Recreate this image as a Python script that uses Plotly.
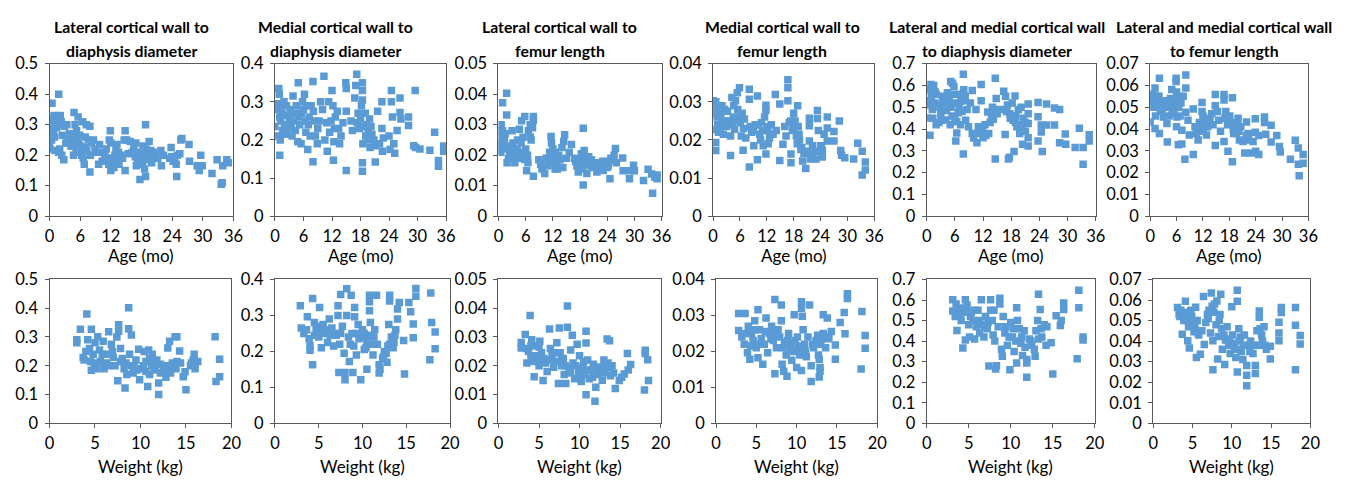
import plotly.graph_objects as go

W, H = 1357, 487

# ---------------- data: (x, y) pairs per panel ----------------
# Age (months) vs. ratios
age_lat_diam = [(0.0,0.23),(0.1,0.22),(0.5,0.37),(1.8,0.40),(0.6,0.32),(0.9,0.33),(1.2,0.31),(1.6,0.32),(2.1,0.33),(2.3,0.31),(0.7,0.29),(0.8,0.27),(1.0,0.26),(0.9,0.30),(1.1,0.215),(1.8,0.21),(2.4,0.20),(2.8,0.185),(2.5,0.265),(2.9,0.295),(3.2,0.24),(3.6,0.24),(4.0,0.25),(4.6,0.23),(4.8,0.34),(5.6,0.325),(5.0,0.30),(5.3,0.28),(4.5,0.26),(5.1,0.25),(5.7,0.24),(5.2,0.22),(6.0,0.21),(6.3,0.20),(6.6,0.19),(6.8,0.17),(6.5,0.31),(7.2,0.30),(7.9,0.295),(7.0,0.26),(7.6,0.25),(7.9,0.145),(8.2,0.24),(8.6,0.25),(8.9,0.22),(9.3,0.21),(9.8,0.235),(9.6,0.17),(10.3,0.18),(11.9,0.28),(11.7,0.25),(12.0,0.24),(11.1,0.22),(10.8,0.2),(12.1,0.19),(12.4,0.175),(12.6,0.16),(12.0,0.15),(13.2,0.235),(13.5,0.21),(13.0,0.22),(14.0,0.2),(14.3,0.19),(14.6,0.25),(15.1,0.25),(14.8,0.28),(13.6,0.17),(14.8,0.15),(15.4,0.205),(15.8,0.245),(16.5,0.23),(16.9,0.24),(17.2,0.21),(17.5,0.20),(17.8,0.19),(17.2,0.18),(17.0,0.165),(18.6,0.155),(17.7,0.12),(18.8,0.13),(18.8,0.30),(19.5,0.245),(18.3,0.23),(18.9,0.22),(19.3,0.2),(19.0,0.185),(20.3,0.21),(20.7,0.2),(21.2,0.19),(21.8,0.215),(21.9,0.165),(22.3,0.2),(23.8,0.225),(23.5,0.19),(24.2,0.18),(24.8,0.17),(24.9,0.13),(25.0,0.2),(25.7,0.25),(25.9,0.255),(25.5,0.205),(27.3,0.235),(27.4,0.18),(28.9,0.165),(29.3,0.15),(29.6,0.2),(29.9,0.165),(31.8,0.14),(32.8,0.185),(33.6,0.105),(33.8,0.11),(33.9,0.165),(34.7,0.185),(35.0,0.175),
                (0.3,0.3),(0.4,0.25),(1.4,0.29),(1.7,0.3),(2.0,0.22),(3.4,0.3),(3.9,0.27),(4.2,0.23),(4.7,0.2),(5.9,0.265),(6.1,0.23),(6.9,0.225),(7.3,0.215),(8.0,0.2),(10.5,0.21),(11.4,0.19),(11.6,0.17),(12.8,0.2),(13.3,0.185),(16.2,0.21),(16.8,0.195),(18.0,0.205),(18.2,0.17),(19.6,0.19),(19.8,0.215),(20.0,0.175),(23.9,0.195),(24.5,0.19)]

age_med_diam = [(0.0,0.235),(0.5,0.295),(0.8,0.335),(0.9,0.32),(1.0,0.16),(0.7,0.28),(1.0,0.26),(1.2,0.25),(0.8,0.21),(1.1,0.2),(1.5,0.27),(1.9,0.3),(2.0,0.24),(2.3,0.215),(2.6,0.265),(3.0,0.255),(3.2,0.28),(3.8,0.315),(3.6,0.21),(4.1,0.27),(4.5,0.29),(4.9,0.35),(5.0,0.26),(5.2,0.24),(4.8,0.195),(5.5,0.19),(5.8,0.3),(6.2,0.32),(6.0,0.28),(6.3,0.25),(6.5,0.22),(6.9,0.175),(7.2,0.26),(7.6,0.29),(8.0,0.353),(8.0,0.143),(8.1,0.275),(8.5,0.21),(8.9,0.19),(9.3,0.25),(9.6,0.3),(10.3,0.367),(10.5,0.2),(10.9,0.245),(11.0,0.17),(11.3,0.3),(11.5,0.22),(12.0,0.33),(12.2,0.29),(12.4,0.195),(12.3,0.147),(12.7,0.26),(13.1,0.275),(13.4,0.23),(13.9,0.21),(14.3,0.245),(14.9,0.35),(15.0,0.335),(15.0,0.275),(15.0,0.12),(16.0,0.25),(16.3,0.225),(16.8,0.31),(17.2,0.372),(17.0,0.343),(17.3,0.245),(17.8,0.23),(18.2,0.29),(18.4,0.33),(18.4,0.305),(18.4,0.35),(18.4,0.14),(18.4,0.118),(18.5,0.19),(19.0,0.27),(19.3,0.24),(19.6,0.22),(19.9,0.255),(20.0,0.18),(20.4,0.215),(21.1,0.142),(21.1,0.185),(21.6,0.275),(22.0,0.19),(22.5,0.3),(22.5,0.23),(22.6,0.17),(22.8,0.205),(24.0,0.21),(24.2,0.175),(24.5,0.33),(24.5,0.3),(24.7,0.26),(25.0,0.19),(25.2,0.165),(25.7,0.225),(26.3,0.31),(26.3,0.272),(26.5,0.255),(28.1,0.26),(28.1,0.238),(29.5,0.33),(29.2,0.185),(29.6,0.18),(30.5,0.176),(32.6,0.173),(33.6,0.22),(34.4,0.146),(34.4,0.131),(35.5,0.184),(35.5,0.17),
                (1.3,0.29),(1.6,0.225),(2.4,0.29),(2.8,0.23),(3.4,0.24),(4.0,0.25),(4.3,0.225),(5.6,0.27),(6.7,0.29),(7.0,0.24),(7.4,0.21),(8.3,0.25),(9.0,0.23),(10.0,0.28),(11.8,0.25),(12.5,0.23),(13.6,0.19),(17.5,0.27),(18.0,0.255),(18.8,0.235),(19.1,0.21),(19.5,0.2),(20.2,0.235),(20.8,0.2)]

age_lat_len = [(0.0,0.0233),(0.1,0.0217),(0.9,0.0372),(1.8,0.0403),(1.8,0.0332),(0.6,0.03),(0.9,0.028),(1.0,0.026),(0.7,0.024),(1.2,0.022),(0.5,0.021),(1.5,0.027),(1.9,0.0175),(2.5,0.021),(2.9,0.0225),(3.2,0.024),(3.6,0.0175),(3.0,0.028),(3.8,0.02),(4.1,0.022),(4.4,0.019),(4.6,0.0285),(5.1,0.0313),(5.8,0.0327),(5.4,0.0259),(5.0,0.024),(5.8,0.0186),(6.2,0.0149),(6.5,0.0175),(6.4,0.02),(6.6,0.028),(7.0,0.03),(7.7,0.0327),(7.7,0.0314),(7.5,0.029),(7.7,0.0131),(7.2,0.025),(8.9,0.0185),(9.3,0.017),(9.6,0.0155),(10.2,0.014),(10.5,0.019),(10.9,0.0165),(11.3,0.021),(11.6,0.0261),(11.7,0.024),(12.0,0.022),(12.2,0.019),(12.5,0.0155),(12.9,0.017),(13.3,0.02),(13.6,0.0185),(14.0,0.0225),(14.4,0.0245),(14.6,0.0267),(14.2,0.016),(15.0,0.019),(15.6,0.021),(16.1,0.0235),(16.8,0.019),(17.3,0.0165),(17.6,0.0145),(17.9,0.0185),(18.3,0.0205),(18.7,0.0288),(18.7,0.0102),(18.9,0.0215),(19.2,0.017),(19.5,0.014),(19.9,0.0195),(20.2,0.0165),(20.8,0.016),(21.3,0.0175),(21.7,0.0145),(22.3,0.017),(23.1,0.015),(23.5,0.0175),(24.0,0.016),(24.3,0.018),(24.6,0.0123),(24.8,0.019),(25.2,0.0185),(25.5,0.02),(25.8,0.0222),(26.0,0.0175),(27.4,0.0191),(27.5,0.0149),(28.9,0.0149),(28.9,0.0123),(29.8,0.0167),(30.0,0.0149),(32.0,0.0117),(33.0,0.0154),(33.8,0.0138),(34.0,0.0075),(34.5,0.0128),(35.0,0.0123),(35.0,0.0135),
               (0.3,0.026),(0.4,0.028),(1.3,0.025),(1.6,0.023),(2.2,0.019),(3.5,0.022),(4.2,0.025),(4.8,0.021),(6.0,0.022),(7.0,0.026),(11.0,0.019),(11.8,0.0175),(12.5,0.021),(13.0,0.0155),(17.0,0.018),(18.1,0.017),(18.5,0.0155),(19.0,0.019),(20.5,0.0185),(22.0,0.0155),(23.0,0.018),(24.2,0.0165)]

age_med_len = [(0.0,0.0303),(0.0,0.0227),(0.6,0.0193),(0.6,0.0172),(0.6,0.03),(0.8,0.0285),(0.9,0.026),(1.0,0.024),(1.2,0.022),(1.7,0.0269),(2.0,0.025),(2.3,0.0215),(2.6,0.028),(3.0,0.0235),(3.2,0.0275),(3.5,0.025),(3.9,0.0159),(3.9,0.021),(4.2,0.0311),(4.5,0.026),(4.8,0.0228),(5.0,0.0303),(5.4,0.0324),(5.5,0.028),(5.2,0.025),(5.9,0.0337),(6.1,0.0245),(6.3,0.021),(6.5,0.027),(6.7,0.0173),(7.0,0.0255),(7.3,0.0205),(8.1,0.0333),(8.1,0.0307),(8.1,0.0129),(8.3,0.0235),(8.6,0.022),(9.1,0.0185),(9.4,0.024),(9.9,0.0315),(9.9,0.0148),(10.4,0.0215),(10.8,0.0245),(11.2,0.0185),(11.5,0.026),(11.8,0.0291),(11.8,0.0278),(11.8,0.0163),(12.0,0.0225),(12.3,0.019),(12.6,0.0205),(13.0,0.024),(13.4,0.0215),(13.9,0.0319),(14.1,0.0225),(14.9,0.0294),(14.9,0.0146),(15.6,0.0189),(16.0,0.0235),(16.3,0.021),(16.7,0.0358),(16.7,0.0337),(16.7,0.0303),(17.0,0.0245),(17.4,0.0163),(17.4,0.014),(17.7,0.0225),(18.0,0.027),(18.3,0.025),(18.6,0.021),(18.9,0.029),(19.0,0.0235),(19.3,0.02),(19.6,0.0175),(20.0,0.0145),(20.3,0.0165),(20.7,0.0125),(21.2,0.017),(21.5,0.0237),(21.5,0.0257),(21.5,0.0197),(21.7,0.015),(22.2,0.0185),(22.8,0.017),(23.3,0.0277),(23.3,0.0256),(23.5,0.0225),(24.0,0.0185),(24.4,0.0172),(24.4,0.0155),(24.8,0.0215),(25.5,0.026),(25.5,0.0231),(25.5,0.0197),(27.0,0.0222),(27.0,0.0197),(28.2,0.025),(28.5,0.0172),(28.7,0.016),(29.4,0.0153),(31.4,0.015),(32.3,0.0191),(33.3,0.017),(33.3,0.0108),(34.0,0.0142),(34.0,0.0121),
               (0.4,0.027),(1.5,0.023),(2.0,0.029),(2.8,0.025),(4.2,0.024),(4.6,0.029),(5.7,0.026),(6.8,0.023),(9.0,0.0225),(10.0,0.024),(10.6,0.02),(11.0,0.0225),(12.2,0.0235),(12.8,0.0215),(17.3,0.025),(18.0,0.023),(18.8,0.019),(19.2,0.0215),(19.8,0.018),(22.0,0.016),(23.0,0.015),(24.2,0.0185)]

age_both_diam = [(0.0,0.522),(0.0,0.451),(0.7,0.371),(0.9,0.604),(0.6,0.58),(1.0,0.55),(0.8,0.51),(1.2,0.49),(1.5,0.60),(1.8,0.57),(1.3,0.45),(2.0,0.42),(2.3,0.515),(2.6,0.43),(3.0,0.47),(3.3,0.55),(3.6,0.52),(4.1,0.441),(4.2,0.485),(4.4,0.567),(4.8,0.54),(5.1,0.618),(5.5,0.61),(5.2,0.5),(5.4,0.46),(5.0,0.42),(5.8,0.595),(6.0,0.52),(6.2,0.345),(6.4,0.382),(6.4,0.434),(6.7,0.475),(7.0,0.56),(7.3,0.53),(7.8,0.651),(7.8,0.285),(7.9,0.58),(8.0,0.53),(8.3,0.44),(8.6,0.49),(8.9,0.41),(9.7,0.577),(9.3,0.52),(9.7,0.38),(10.0,0.359),(10.5,0.49),(10.7,0.337),(11.0,0.41),(11.6,0.604),(11.6,0.53),(11.6,0.389),(12.0,0.36),(12.4,0.42),(13.0,0.478),(13.2,0.38),(13.5,0.43),(14.0,0.5),(14.2,0.445),(14.6,0.633),(14.6,0.263),(14.8,0.54),(15.0,0.47),(16.0,0.49),(16.4,0.574),(16.8,0.55),(16.7,0.375),(17.0,0.48),(17.4,0.263),(17.6,0.27),(17.8,0.45),(18.2,0.52),(18.6,0.297),(18.8,0.552),(18.9,0.43),(19.2,0.41),(19.5,0.49),(19.8,0.38),(20.1,0.5),(20.4,0.33),(20.6,0.45),(21.0,0.39),(21.6,0.515),(21.6,0.47),(21.6,0.426),(21.6,0.36),(21.6,0.322),(23.7,0.522),(23.7,0.456),(23.7,0.345),(24.4,0.419),(24.4,0.386),(24.6,0.297),(25.5,0.515),(25.5,0.419),(27.2,0.497),(27.2,0.419),(28.3,0.49),(28.3,0.337),(29.5,0.377),(29.6,0.33),(31.6,0.315),(32.5,0.404),(33.3,0.315),(33.3,0.238),(34.6,0.374),(34.6,0.345),
                 (0.5,0.53),(1.1,0.58),(1.6,0.52),(2.0,0.56),(2.8,0.5),(3.1,0.44),(4.0,0.53),(4.6,0.51),(5.6,0.56),(6.0,0.45),(6.9,0.5),(7.5,0.48),(7.2,0.42),(8.2,0.55),(11.2,0.38),(11.9,0.40),(12.6,0.37),(13.8,0.46),(14.5,0.49),(17.2,0.51),(17.7,0.47),(18.4,0.44),(19.0,0.46),(19.9,0.41),(20.3,0.42),(21.0,0.43)]

age_both_len = [(0.0,0.0533),(0.0,0.0432),(1.1,0.0589),(2.1,0.0633),(0.7,0.056),(1.0,0.054),(1.3,0.052),(0.8,0.05),(1.5,0.055),(1.8,0.051),(2.4,0.053),(2.7,0.049),(3.2,0.051),(3.5,0.053),(1.1,0.0402),(1.2,0.046),(2.1,0.038),(3.0,0.0455),(3.9,0.034),(3.8,0.0425),(4.2,0.05),(4.6,0.054),(4.9,0.0581),(5.2,0.052),(5.5,0.049),(5.0,0.047),(5.9,0.0633),(5.9,0.0618),(6.0,0.057),(6.3,0.055),(6.0,0.041),(6.1,0.0455),(6.4,0.0328),(7.2,0.0331),(7.2,0.0395),(7.0,0.052),(7.5,0.055),(8.1,0.0648),(8.1,0.0589),(8.1,0.0477),(7.9,0.0261),(8.6,0.044),(8.9,0.0373),(9.8,0.0283),(9.8,0.0492),(10.2,0.041),(10.5,0.038),(10.9,0.035),(11.2,0.043),(11.8,0.0522),(11.8,0.048),(12.0,0.04),(12.3,0.044),(12.8,0.0373),(13.1,0.041),(13.6,0.045),(14.0,0.047),(14.3,0.042),(14.8,0.0559),(14.8,0.0507),(14.8,0.0325),(15.3,0.048),(15.6,0.044),(16.0,0.039),(16.8,0.0559),(16.8,0.0533),(16.8,0.0343),(17.2,0.048),(17.7,0.0298),(17.6,0.042),(18.1,0.046),(18.7,0.0544),(18.7,0.025),(18.9,0.04),(19.3,0.043),(19.6,0.038),(20.0,0.045),(20.3,0.035),(20.6,0.041),(21.1,0.0343),(21.5,0.029),(21.9,0.0432),(22.3,0.038),(23.0,0.029),(23.9,0.0447),(23.9,0.0385),(23.4,0.0343),(24.0,0.0298),(24.7,0.0283),(24.7,0.037),(26.0,0.0455),(26.0,0.043),(26.3,0.0376),(27.5,0.0417),(27.5,0.034),(28.8,0.037),(29.4,0.032),(29.6,0.0295),(31.9,0.0261),(33.0,0.0349),(33.7,0.0313),(33.7,0.0238),(33.9,0.0186),(34.8,0.0283),(34.8,0.0243),
                (0.4,0.055),(0.6,0.052),(1.6,0.05),(2.0,0.055),(2.3,0.048),(2.9,0.052),(4.3,0.046),(4.7,0.05),(5.6,0.053),(6.5,0.05),(6.8,0.046),(10.8,0.04),(11.5,0.039),(12.0,0.046),(12.6,0.041),(13.3,0.043),(17.0,0.045),(18.3,0.043),(19.0,0.038),(19.9,0.042),(20.2,0.039),(21.9,0.037),(22.4,0.035)]

# Weight (kg) vs. ratios
wt_lat_diam = [(3.0,0.29),(3.0,0.28),(3.4,0.327),(3.7,0.229),(3.8,0.22),(4.1,0.38),(4.2,0.29),(4.4,0.26),(4.5,0.215),(4.6,0.327),(4.6,0.184),(4.8,0.24),(5.0,0.28),(5.2,0.19),(5.3,0.301),(5.5,0.255),(5.6,0.215),(5.9,0.285),(6.0,0.19),(6.2,0.24),(6.5,0.318),(6.5,0.2),(6.8,0.275),(7.0,0.23),(7.2,0.2),(7.4,0.3),(7.6,0.343),(7.6,0.32),(7.5,0.148),(7.8,0.26),(8.0,0.225),(8.2,0.19),(8.3,0.123),(8.5,0.17),(8.7,0.402),(8.7,0.329),(8.8,0.24),(9.0,0.307),(9.0,0.2),(9.2,0.175),(9.5,0.22),(9.8,0.257),(9.9,0.151),(10.1,0.19),(10.4,0.25),(10.6,0.215),(10.8,0.128),(10.9,0.255),(11.0,0.17),(11.2,0.2),(11.3,0.24),(11.5,0.185),(11.8,0.22),(12.0,0.1),(12.0,0.14),(12.2,0.175),(12.5,0.19),(12.8,0.16),(13.0,0.262),(13.0,0.2),(13.2,0.285),(13.3,0.175),(13.5,0.21),(13.8,0.301),(14.0,0.301),(13.9,0.19),(14.3,0.251),(14.4,0.21),(14.7,0.162),(15.0,0.117),(14.9,0.179),(15.5,0.2),(15.8,0.22),(15.9,0.24),(16.0,0.19),(16.3,0.215),(18.2,0.301),(18.3,0.145),(18.7,0.223),(18.7,0.162),
               (4.0,0.25),(4.9,0.21),(5.8,0.24),(6.3,0.21),(6.9,0.25),(7.8,0.215),(8.4,0.21),(9.3,0.2),(9.6,0.185),(10.3,0.2),(10.6,0.18),(11.0,0.225),(11.6,0.2),(12.2,0.205),(12.7,0.18),(13.1,0.18),(13.6,0.195),(14.0,0.215),(15.6,0.21),(16.0,0.205)]

wt_med_diam = [(2.9,0.327),(3.0,0.265),(3.3,0.25),(3.7,0.296),(3.9,0.235),(4.0,0.216),(4.0,0.203),(4.3,0.347),(4.3,0.163),(4.5,0.28),(4.7,0.26),(5.0,0.24),(5.1,0.322),(5.3,0.21),(5.5,0.275),(5.8,0.25),(6.0,0.225),(6.2,0.29),(6.5,0.265),(6.7,0.215),(7.0,0.245),(7.2,0.327),(7.2,0.3),(7.3,0.141),(7.4,0.22),(7.5,0.358),(7.7,0.27),(7.9,0.195),(8.0,0.141),(8.0,0.121),(8.2,0.374),(8.2,0.3),(8.4,0.24),(8.5,0.172),(8.7,0.356),(8.8,0.25),(8.9,0.141),(9.0,0.215),(9.1,0.322),(9.1,0.296),(9.3,0.19),(9.5,0.275),(9.6,0.235),(9.8,0.121),(10.0,0.26),(10.2,0.205),(10.5,0.15),(10.5,0.23),(10.8,0.356),(10.8,0.338),(10.8,0.313),(10.9,0.28),(11.0,0.245),(11.2,0.19),(11.4,0.26),(11.6,0.356),(11.7,0.22),(11.9,0.163),(11.9,0.14),(12.0,0.15),(12.3,0.18),(12.5,0.2),(12.7,0.195),(12.9,0.215),(13.0,0.275),(13.1,0.356),(13.1,0.34),(13.3,0.24),(13.6,0.225),(13.8,0.26),(14.0,0.318),(14.0,0.29),(14.2,0.336),(14.7,0.23),(14.8,0.137),(15.3,0.336),(15.5,0.31),(15.8,0.276),(15.8,0.238),(16.1,0.375),(16.1,0.353),(17.7,0.177),(17.8,0.362),(17.9,0.28),(18.3,0.254),(18.3,0.207),
               (3.6,0.26),(4.5,0.245),(4.9,0.27),(5.4,0.255),(6.0,0.26),(6.3,0.245),(6.8,0.25),(7.5,0.25),(8.6,0.22),(9.2,0.25),(9.8,0.24),(10.2,0.25),(10.4,0.21),(11.0,0.22),(11.3,0.24),(12.4,0.185),(12.8,0.17),(13.1,0.22),(13.5,0.21),(13.7,0.245)]

wt_lat_len = [(2.8,0.0281),(2.8,0.0262),(3.3,0.0309),(3.5,0.021),(3.7,0.025),(3.9,0.0375),(4.0,0.0235),(4.1,0.029),(4.3,0.0215),(4.4,0.0162),(4.6,0.027),(4.8,0.0225),(5.0,0.02),(5.1,0.0285),(5.3,0.0245),(5.5,0.0149),(5.8,0.021),(6.0,0.018),(6.3,0.0328),(6.4,0.026),(6.6,0.0235),(6.8,0.0195),(7.0,0.0215),(7.2,0.028),(7.4,0.0138),(7.5,0.0331),(7.6,0.0245),(7.8,0.02),(8.0,0.0225),(8.1,0.017),(8.3,0.0138),(8.5,0.0408),(8.5,0.0334),(8.7,0.019),(8.9,0.0255),(9.1,0.0306),(9.2,0.021),(9.4,0.0155),(9.7,0.0275),(9.9,0.018),(10.0,0.0235),(10.2,0.0145),(10.4,0.0195),(10.6,0.017),(10.8,0.032),(10.8,0.0279),(10.8,0.0099),(11.0,0.022),(11.2,0.0155),(11.5,0.0185),(11.7,0.0205),(11.9,0.0077),(12.0,0.0125),(12.3,0.017),(12.6,0.0195),(12.8,0.015),(13.0,0.022),(13.2,0.018),(13.4,0.0293),(13.5,0.021),(13.7,0.0287),(13.8,0.0165),(14.0,0.02),(14.4,0.0121),(14.9,0.0149),(15.2,0.016),(15.5,0.0171),(15.9,0.0243),(16.0,0.0185),(16.3,0.0204),(18.0,0.0116),(18.1,0.0254),(18.1,0.0243),(18.4,0.0221),(18.5,0.0149),
              (3.4,0.026),(4.0,0.027),(4.5,0.0235),(5.0,0.0265),(5.6,0.0225),(6.2,0.022),(7.0,0.0245),(7.8,0.0225),(8.3,0.02),(8.9,0.0175),(9.5,0.02),(10.1,0.0165),(10.5,0.0215),(11.1,0.0185),(11.6,0.016),(12.2,0.0195),(12.9,0.0175),(13.3,0.02),(13.7,0.0195),(14.2,0.0175)]

wt_med_len = [(2.8,0.0305),(3.6,0.0305),(2.8,0.0258),(3.2,0.024),(3.5,0.022),(3.9,0.0196),(4.0,0.027),(4.2,0.0178),(4.4,0.025),(4.6,0.023),(4.8,0.0285),(5.0,0.021),(5.2,0.0316),(5.2,0.0182),(5.4,0.026),(5.6,0.0235),(5.8,0.0164),(6.0,0.022),(6.2,0.0293),(6.4,0.0196),(6.6,0.025),(6.9,0.027),(7.1,0.023),(7.3,0.0344),(7.3,0.0138),(7.5,0.021),(7.7,0.026),(7.9,0.024),(8.1,0.0329),(8.1,0.0285),(8.2,0.0164),(8.4,0.0145),(8.5,0.0225),(8.7,0.019),(8.8,0.0131),(9.0,0.025),(9.2,0.0205),(9.4,0.0175),(9.7,0.0302),(9.8,0.023),(10.0,0.0155),(10.2,0.0215),(10.4,0.019),(10.6,0.0338),(10.6,0.032),(10.7,0.0298),(10.6,0.0147),(10.8,0.026),(11.0,0.022),(11.2,0.0185),(11.4,0.024),(11.6,0.0329),(11.8,0.016),(11.8,0.0116),(12.1,0.021),(12.4,0.023),(12.7,0.019),(12.8,0.0178),(12.8,0.0129),(13.0,0.022),(13.3,0.0302),(13.3,0.025),(13.6,0.021),(13.8,0.0293),(14.0,0.024),(14.3,0.0255),(14.8,0.0218),(14.8,0.0178),(15.4,0.028),(15.9,0.0308),(16.0,0.0249),(16.3,0.036),(16.3,0.0347),(18.0,0.0151),(18.1,0.0311),(18.5,0.0244),(18.5,0.0209),
              (3.7,0.025),(4.3,0.0215),(4.9,0.026),(5.3,0.022),(6.1,0.0255),(6.8,0.0235),(7.4,0.025),(8.3,0.021),(8.9,0.023),(9.3,0.022),(9.6,0.02),(10.1,0.024),(10.5,0.0205),(11.1,0.02),(12.0,0.022),(12.6,0.0245),(13.1,0.0235),(13.9,0.0235),(12.9,0.0155),(12.9,0.0145)]

wt_both_diam = [(3.1,0.601),(3.1,0.546),(3.4,0.52),(3.6,0.452),(3.9,0.56),(4.1,0.5),(4.3,0.366),(4.5,0.54),(4.6,0.601),(4.6,0.405),(4.8,0.575),(5.0,0.48),(5.1,0.42),(5.3,0.54),(5.5,0.5),(5.7,0.41),(5.9,0.47),(6.1,0.55),(6.3,0.44),(6.5,0.601),(6.5,0.48),(6.8,0.42),(7.0,0.52),(7.2,0.46),(7.4,0.279),(7.6,0.601),(7.6,0.55),(7.8,0.5),(7.9,0.43),(8.1,0.4),(8.2,0.264),(8.3,0.28),(8.5,0.47),(8.7,0.609),(8.7,0.58),(8.9,0.36),(9.0,0.326),(9.1,0.52),(9.3,0.44),(9.6,0.38),(9.9,0.261),(10.0,0.49),(10.2,0.42),(10.4,0.35),(10.7,0.562),(10.7,0.294),(10.8,0.5),(11.0,0.46),(11.2,0.39),(11.4,0.33),(11.6,0.45),(11.9,0.294),(11.9,0.31),(11.9,0.224),(12.2,0.41),(12.5,0.38),(12.9,0.326),(13.0,0.45),(13.2,0.5),(13.3,0.628),(13.5,0.554),(13.7,0.42),(14.0,0.48),(14.2,0.38),(14.8,0.392),(15.0,0.24),(15.4,0.523),(15.9,0.476),(16.0,0.5),(16.3,0.586),(16.3,0.554),(17.9,0.314),(18.1,0.648),(18.1,0.562),(18.6,0.42),(18.6,0.405),
                (3.5,0.58),(4.0,0.53),(4.4,0.56),(5.2,0.52),(5.7,0.55),(6.3,0.5),(6.9,0.47),(7.3,0.49),(8.0,0.55),(9.4,0.47),(9.8,0.42),(10.3,0.46),(10.6,0.4),(11.3,0.42),(11.7,0.37),(12.4,0.4),(12.8,0.36),(13.3,0.41),(13.6,0.46),(14.3,0.47)]

wt_both_len = [(3.1,0.0563),(3.3,0.0531),(3.5,0.055),(3.7,0.0433),(3.9,0.05),(4.1,0.0594),(4.2,0.053),(4.4,0.0402),(4.5,0.047),(4.6,0.0367),(4.8,0.055),(5.0,0.05),(5.2,0.0445),(5.4,0.0565),(5.5,0.032),(5.6,0.05),(5.8,0.043),(6.0,0.0336),(6.2,0.045),(6.4,0.0617),(6.5,0.0383),(6.7,0.049),(6.9,0.053),(7.1,0.055),(7.3,0.044),(7.4,0.0634),(7.5,0.057),(7.6,0.0261),(7.6,0.0402),(7.8,0.058),(8.0,0.048),(8.1,0.0595),(8.2,0.0313),(8.3,0.0422),(8.5,0.053),(8.6,0.0628),(8.7,0.046),(8.8,0.036),(9.1,0.0286),(9.2,0.0405),(9.4,0.047),(9.6,0.038),(9.8,0.034),(10.0,0.0567),(10.1,0.043),(10.3,0.037),(10.5,0.032),(10.7,0.0648),(10.7,0.0594),(10.7,0.025),(10.9,0.046),(11.0,0.04),(11.2,0.035),(11.4,0.031),(11.6,0.043),(11.9,0.0281),(11.9,0.0234),(11.9,0.0183),(12.1,0.038),(12.4,0.04),(12.7,0.034),(13.0,0.0242),(13.0,0.0281),(13.2,0.045),(13.4,0.038),(13.5,0.0547),(13.5,0.0516),(13.8,0.043),(14.1,0.047),(14.4,0.036),(14.9,0.0313),(14.9,0.0375),(16.0,0.0492),(16.0,0.0402),(16.0,0.044),(16.3,0.0563),(16.3,0.0539),(18.1,0.0563),(18.1,0.0477),(18.1,0.0261),(18.7,0.0427),(18.7,0.0386),
               (3.4,0.052),(4.0,0.054),(4.3,0.05),(4.9,0.052),(5.3,0.047),(5.7,0.044),(7.0,0.051),(7.7,0.054),(8.4,0.05),(9.0,0.043),(9.7,0.041),(10.2,0.039),(10.6,0.036),(11.1,0.042),(11.5,0.038),(12.3,0.035),(12.8,0.038),(13.6,0.046),(13.9,0.04),(14.2,0.038)]

titles = [
    ("Lateral cortical wall to", "diaphysis diameter"),
    ("Medial cortical wall to", "diaphysis diameter"),
    ("Lateral cortical wall to", "femur length"),
    ("Medial cortical wall to", "femur length"),
    ("Lateral and medial cortical wall", "to diaphysis diameter"),
    ("Lateral and medial cortical wall", "to femur length"),
]
y_max = [0.5, 0.4, 0.05, 0.04, 0.7, 0.07]
y_step = [0.1, 0.1, 0.01, 0.01, 0.1, 0.01]

age_sets = [age_lat_diam, age_med_diam, age_lat_len, age_med_len, age_both_diam, age_both_len]
wt_sets = [wt_lat_diam, wt_med_diam, wt_lat_len, wt_med_len, wt_both_diam, wt_both_len]

# ---------------- layout geometry (pixels) ----------------
top_x_px = [(45, 231), (273, 446), (499, 664), (716, 879), (932, 1103), (1158, 1318)]
bot_x_px = [(45, 229), (273, 450), (499, 663), (719, 882), (932, 1102), (1161, 1320)]
top_y_px = (56, 215)
bot_y_px = (281, 431)
title_cx = [128, 334, 561, 786, 1003, 1233]

FONT = "Lato, Calibri, Carlito, sans-serif"
BLUE = "#5B9BD5"
AXIS = "#595959"


def xdom(p):
    return [p[0] / W, p[1] / W]


def ydom(p):
    return [1 - p[1] / H, 1 - p[0] / H]


fig = go.Figure()
layout = dict(
    width=W, height=H,
    margin=dict(l=0, r=0, t=0, b=0),
    paper_bgcolor="white", plot_bgcolor="white",
    showlegend=False,
    font=dict(family=FONT, size=14, color="#000000"),
)
annotations = []


def axis_common():
    return dict(
        showgrid=False, zeroline=False,
        showline=True, mirror=True, linecolor=AXIS, linewidth=1,
        ticks="outside", ticklen=4, tickcolor=AXIS, tickwidth=1,
        ticklabelstandoff=3,
        tickfont=dict(family=FONT, size=16.5, color="#000000"),
        fixedrange=True,
    )


k = 0
for row in range(2):
    for i in range(6):
        k += 1
        pts = age_sets[i] if row == 0 else wt_sets[i]
        xs = [p[0] for p in pts]
        ys = [p[1] for p in pts]
        xa = "x" if k == 1 else f"x{k}"
        ya = "y" if k == 1 else f"y{k}"
        fig.add_trace(go.Scatter(
            x=xs, y=ys, mode="markers", xaxis=xa, yaxis=ya,
            marker=dict(symbol="square", size=7.5, color=BLUE, line=dict(width=0)),
        ))
        xkey = "xaxis" if k == 1 else f"xaxis{k}"
        ykey = "yaxis" if k == 1 else f"yaxis{k}"
        xpx = top_x_px[i] if row == 0 else bot_x_px[i]
        ypx = top_y_px if row == 0 else bot_y_px
        xcfg = axis_common()
        if row == 0:
            xcfg.update(range=[0, 36], tick0=0, dtick=6)
        else:
            xcfg.update(range=[0, 20], tick0=0, dtick=5)
        xcfg.update(domain=xdom(xpx), anchor=ya, ticklabelstandoff=1)
        ycfg = axis_common()
        ycfg.update(range=[0, y_max[i]], tick0=0, dtick=y_step[i],
                    domain=ydom(ypx), anchor=xa)
        layout[xkey] = xcfg
        layout[ykey] = ycfg

        # axis title under each panel
        cx = (xpx[0] + xpx[1]) / 2 / W
        if row == 0:
            annotations.append(dict(text="Age (mo)", x=cx, y=1 - 256 / H,
                                    xref="paper", yref="paper", showarrow=False,
                                    xanchor="center", yanchor="middle",
                                    font=dict(family=FONT, size=17)))
        else:
            annotations.append(dict(text="Weight (kg)", x=cx, y=1 - 476 / H,
                                    xref="paper", yref="paper", showarrow=False,
                                    xanchor="center", yanchor="middle",
                                    font=dict(family=FONT, size=17)))

# two-line bold titles above the top row
for i, (l1, l2) in enumerate(titles):
    for text, ypix in ((l1, 17), (l2, 42)):
        annotations.append(dict(text=f"<b>{text}</b>", x=title_cx[i] / W, y=1 - ypix / H,
                                xref="paper", yref="paper", showarrow=False,
                                xanchor="center", yanchor="middle",
                                font=dict(family=FONT, size=15.8, color="#000000")))

layout["annotations"] = annotations
fig.update_layout(**layout)
fig.write_html("out.html")
